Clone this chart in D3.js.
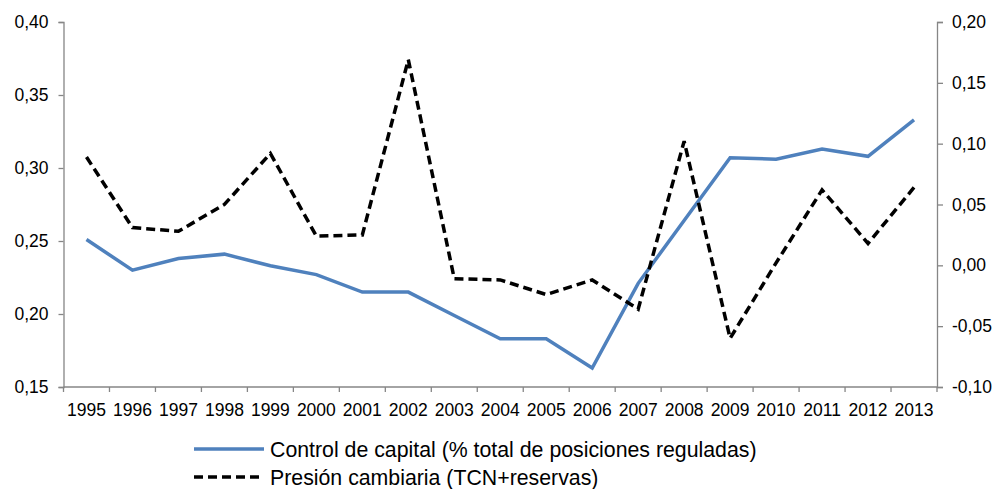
<!DOCTYPE html>
<html>
<head>
<meta charset="utf-8">
<script src="https://cdn.jsdelivr.net/npm/d3@7"></script>
<style>
body { margin:0; background:#fff; }
svg text { font-family:"Liberation Sans", Arial, sans-serif; font-size:17.5px; fill:#000; }
svg .legend text { font-size:21.3px; }
</style>
</head>
<body>
<svg id="graph" width="996" height="489"></svg>
<script>
// years on the x axis
var years = ["1995","1996","1997","1998","1999","2000","2001","2002","2003","2004",
             "2005","2006","2007","2008","2009","2010","2011","2012","2013"];

// Control de capital, left axis
var control = [0.251,0.230,0.238,0.241,0.233,0.227,0.215,0.215,0.199,0.183,
               0.183,0.163,0.221,0.264,0.307,0.306,0.313,0.308,0.333];

// Presion cambiaria, right axis
var presion = [0.089,0.031,0.028,0.050,0.092,0.024,0.025,0.169,-0.011,-0.012,
               -0.024,-0.012,-0.036,0.102,-0.060,0.002,0.062,0.018,0.064];

var leftTicks = [0.15,0.20,0.25,0.30,0.35,0.40];
var rightTicks = [-0.10,-0.05,0.00,0.05,0.10,0.15,0.20];

var legendNames = ["Control de capital (% total de posiciones reguladas)",
                   "Presión cambiaria (TCN+reservas)"];

var fmt = function(v)
{
    return d3.format(".2f")(v).replace(".", ",").replace("−", "-");
}

var screen = {left:63.5, right:937, top:22, bottom:387};
var svg = d3.select("#graph");

var xScale = d3.scaleBand()
    .domain(years)
    .range([screen.left, screen.right]);

var yLeft = d3.scaleLinear()
    .domain([0.15,0.40])
    .range([screen.bottom, screen.top]);

var yRight = d3.scaleLinear()
    .domain([-0.10,0.20])
    .range([screen.bottom, screen.top]);

var axisColor = "#868686";

var styleAxis = function(g)
{
    g.selectAll("path").attr("stroke", axisColor).attr("stroke-width", 1.3);
    g.selectAll("line").attr("stroke", axisColor).attr("stroke-width", 1.3);
    g.selectAll("text").attr("font-size", null).attr("font-family", null);
}

// left axis
svg.append("g")
    .attr("transform", "translate(" + screen.left + ",0)")
    .call(d3.axisLeft(yLeft).tickValues(leftTicks).tickFormat(fmt).tickSizeOuter(0).tickSize(5).tickPadding(10))
    .call(styleAxis);

// right axis
svg.append("g")
    .attr("transform", "translate(" + screen.right + ",0)")
    .call(d3.axisRight(yRight).tickValues(rightTicks).tickFormat(fmt).tickSizeOuter(0).tickSize(6).tickPadding(9))
    .call(styleAxis);

// bottom axis, ticks between categories
var xAxis = svg.append("g")
    .attr("transform", "translate(0," + screen.bottom + ")");
xAxis.append("line")
    .attr("x1", screen.left).attr("x2", screen.right)
    .attr("stroke", axisColor).attr("stroke-width", 1.3);
var bounds = years.map(function(y) { return xScale(y); }).concat([screen.right]);
xAxis.selectAll(".tk")
    .data(bounds)
    .enter()
    .append("line")
    .attr("x1", function(d) { return d; })
    .attr("x2", function(d) { return d; })
    .attr("y1", 0).attr("y2", 5)
    .attr("stroke", axisColor).attr("stroke-width", 1.3);
xAxis.selectAll("text")
    .data(years)
    .enter()
    .append("text")
    .attr("x", function(d) { return xScale(d) + xScale.bandwidth()/2; })
    .attr("y", 29)
    .attr("text-anchor", "middle")
    .text(function(d) { return d; });

var cx = function(d, i) { return xScale(years[i]) + xScale.bandwidth()/2; };

var lineLeft = d3.line()
    .x(cx)
    .y(function(d) { return yLeft(d); });

var lineRight = d3.line()
    .x(cx)
    .y(function(d) { return yRight(d); });

svg.append("path")
    .datum(control)
    .attr("d", lineLeft)
    .attr("fill", "none")
    .attr("stroke", "#4F81BD")
    .attr("stroke-width", 3.5);

svg.append("path")
    .datum(presion)
    .attr("d", lineRight)
    .attr("fill", "none")
    .attr("stroke", "#000")
    .attr("stroke-width", 3.5)
    .attr("stroke-dasharray", "9,5");

// legend
var legend = svg.append("g").attr("class", "legend");
var legendY = [449, 477];
legend.append("line")
    .attr("x1", 194).attr("x2", 264)
    .attr("y1", legendY[0]).attr("y2", legendY[0])
    .attr("stroke", "#4F81BD").attr("stroke-width", 3.5);
legend.append("line")
    .attr("x1", 194).attr("x2", 264)
    .attr("y1", legendY[1]).attr("y2", legendY[1])
    .attr("stroke", "#000").attr("stroke-width", 3.5)
    .attr("stroke-dasharray", "9,5");
legend.selectAll("text")
    .data(legendNames)
    .enter()
    .append("text")
    .attr("x", 270)
    .attr("y", function(d, i) { return legendY[i] + 7.5; })
    .text(function(d) { return d; });
</script>
</body>
</html>
